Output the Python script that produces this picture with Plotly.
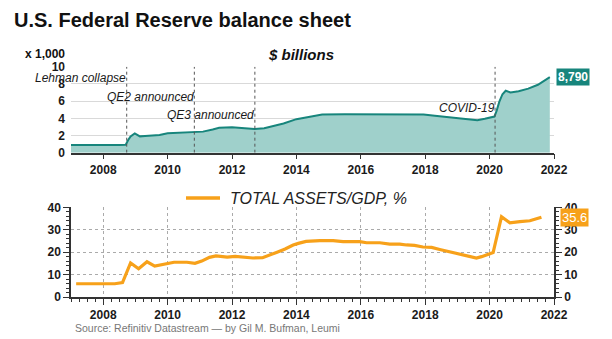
import plotly.graph_objects as go

# ---------------- DATA ----------------
fed_years = [2007.0, 2007.3, 2007.6, 2007.9, 2008.2, 2008.5, 2008.7, 2008.78, 2008.85, 2008.98,
             2009.14, 2009.3, 2009.5, 2009.75, 2010.0, 2010.3, 2010.55, 2010.85, 2011.1, 2011.4,
             2011.6, 2012.0, 2012.3, 2012.7, 2013.0, 2013.3, 2013.6, 2014.0, 2014.5, 2014.8,
             2015.5, 2016.5, 2017.5, 2017.95, 2018.3, 2018.7, 2019.1, 2019.4, 2019.62, 2019.85,
             2020.05, 2020.15, 2020.22, 2020.3, 2020.4, 2020.5, 2020.65, 2020.9, 2021.2, 2021.5,
             2021.87]
fed_vals = [0.9, 0.92, 0.87, 0.9, 0.9, 0.9, 0.92, 1.5, 1.9, 2.25,
            1.9, 1.95, 2.0, 2.05, 2.25, 2.3, 2.35, 2.35, 2.45, 2.7,
            2.9, 2.95, 2.9, 2.75, 2.85, 3.1, 3.4, 3.9, 4.27, 4.45,
            4.48, 4.48, 4.47, 4.45, 4.3, 4.15, 4.0, 3.85, 3.78, 3.95,
            4.15, 4.2, 4.9, 5.9, 6.8, 7.2, 7.0, 7.15, 7.45, 7.9,
            8.79]

gdp_years = [2007.16, 2007.5, 2007.9, 2008.36, 2008.6, 2008.85, 2009.1, 2009.36, 2009.6, 2010.0,
             2010.2, 2010.6, 2010.85, 2011.06, 2011.3, 2011.5, 2011.85, 2012.1, 2012.4, 2012.65,
             2012.95, 2013.2, 2013.4, 2013.65, 2013.9, 2014.06, 2014.3, 2014.73, 2015.14, 2015.45,
             2015.97, 2016.18, 2016.59, 2016.9, 2017.21, 2017.42, 2017.67, 2017.93, 2018.2, 2018.45,
             2019.59, 2019.75, 2020.11, 2020.37, 2020.63, 2020.94, 2021.25, 2021.61]
gdp_vals = [5.9, 5.9, 5.9, 5.9, 6.4, 15.2, 12.6, 15.7, 13.8, 15.0,
            15.5, 15.5, 15.0, 16.0, 17.7, 18.3, 17.8, 18.1, 17.7, 17.4,
            17.5, 18.7, 20.0, 21.4, 23.2, 23.9, 24.8, 25.1, 25.1, 24.7,
            24.7, 24.2, 24.2, 23.6, 23.6, 23.2, 23.0, 22.3, 22.1, 21.2,
            17.4, 18.0, 19.8, 35.8, 33.1, 33.6, 34.0, 35.6]

events = ["Lehman collapse", "QE2 announced", "QE3 announced", "COVID-19"]
event_years = [2008.73, 2010.83, 2012.71, 2020.17]
event_label_y = [8.7, 6.5, 4.4, 5.2]

year_ticks = [2008, 2010, 2012, 2014, 2016, 2018, 2020, 2022]
fed_ticks = [0, 2, 4, 6, 8, 10]
gdp_ticks = [0, 10, 20, 30, 40]

last_fed_label = "8,790"
last_gdp_label = "35.6"

# ---------------- STYLE ----------------
FONT = "Liberation Sans"
TEAL = "#17857c"
TEAL_FILL = "#9fd0cb"
ORANGE = "#f7a11a"
W, H = 612, 339

def px_x(p):
    return p / W

def px_y(p):
    return 1 - p / H

fig = go.Figure()

fig.add_trace(go.Scatter(
    x=fed_years, y=fed_vals, mode="lines", fill="tozeroy",
    line=dict(color=TEAL, width=2), fillcolor=TEAL_FILL,
    xaxis="x", yaxis="y", showlegend=False, hoverinfo="skip"))

fig.add_trace(go.Scatter(
    x=gdp_years, y=gdp_vals, mode="lines",
    line=dict(color=ORANGE, width=3.2),
    xaxis="x2", yaxis="y2", showlegend=False, hoverinfo="skip"))

tickfont = dict(family=FONT, size=12, color="#1a1a1a", weight="bold")

top_dom_x = [px_x(71), px_x(554)]
top_dom_y = [px_y(152.7), px_y(66.7)]
bot_dom_x = [px_x(71), px_x(554)]
bot_dom_y = [px_y(297), px_y(207.3)]

fig.update_layout(
    template="none",
    width=W, height=H,
    margin=dict(l=0, r=0, t=0, b=0, autoexpand=False),
    paper_bgcolor="white", plot_bgcolor="white",
    font=dict(family=FONT),
    showlegend=False,
    xaxis=dict(domain=top_dom_x, range=[2007, 2022], anchor="y", automargin=False,
               tickvals=year_ticks, ticks="outside", ticklen=5, tickcolor="#333",
               showline=True, linecolor="#333", linewidth=1.5,
               showgrid=False, zeroline=False, tickfont=tickfont),
    yaxis=dict(domain=top_dom_y, range=[0, 10], anchor="x", automargin=False,
               tickvals=fed_ticks, ticks="", showline=False,
               showgrid=True, gridcolor="#d9d9d9", gridwidth=1,
               zeroline=False, tickfont=tickfont, ticklabelstandoff=5),
    xaxis2=dict(domain=bot_dom_x, range=[2007, 2022], anchor="y2", automargin=False,
                tickvals=year_ticks, ticks="outside", ticklen=6, tickcolor="#333",
                minor=dict(dtick=0.25, tick0=2007, ticks="outside", ticklen=3, tickcolor="#333",
                           showgrid=False),
                showline=True, linecolor="#333", linewidth=1.5,
                showgrid=True, gridcolor="#aaaaaa", griddash="dot", gridwidth=1,
                zeroline=False, tickfont=tickfont),
    yaxis2=dict(domain=bot_dom_y, range=[0, 40], anchor="x2", automargin=False,
                tickvals=gdp_ticks, ticks="outside", ticklen=6, tickcolor="#333",
                minor=dict(dtick=2, ticks="outside", ticklen=3, tickcolor="#333", showgrid=False),
                showline=True, linecolor="#333", linewidth=1.5,
                showgrid=True, gridcolor="#aaaaaa", griddash="dot", gridwidth=1,
                zeroline=False, tickfont=tickfont),
    yaxis3=dict(range=[0, 40], overlaying="y2", anchor="x2", side="right", automargin=False,
                tickvals=gdp_ticks, ticks="outside", ticklen=6, tickcolor="#333",
                minor=dict(dtick=2, ticks="outside", ticklen=3, tickcolor="#333", showgrid=False),
                showline=True, linecolor="#333", linewidth=1.5,
                showgrid=False, zeroline=False, tickfont=tickfont),
)

# invisible trace so the right axis is drawn
fig.add_trace(go.Scatter(x=[gdp_years[0]], y=[gdp_vals[0]], mode="lines",
                         line=dict(width=0), xaxis="x2", yaxis="y3",
                         showlegend=False, hoverinfo="skip", opacity=0))

shapes = []
annots = []
for name, yr, ly in zip(events, event_years, event_label_y):
    shapes.append(dict(type="line", xref="x", yref="y", x0=yr, x1=yr, y0=0, y1=10,
                       line=dict(color="#555", width=1, dash="dot")))
    annots.append(dict(xref="x", yref="y", x=yr + 0.05, y=ly, text=name, showarrow=False,
                       xanchor="right", yanchor="middle",
                       font=dict(family=FONT, size=12, color="#1a1a1a", style="italic")))

annots += [
    dict(xref="paper", yref="paper", x=px_x(12), y=px_y(20), text="U.S. Federal Reserve balance sheet",
         showarrow=False, xanchor="left", yanchor="middle",
         font=dict(family=FONT, size=20, color="#111", weight="bold")),
    dict(xref="paper", yref="paper", x=px_x(67), y=px_y(54), text="x 1,000",
         showarrow=False, xanchor="right", yanchor="middle",
         font=dict(family=FONT, size=12, color="#111", weight="bold")),
    dict(xref="paper", yref="paper", x=px_x(301), y=px_y(54), text="$ billions",
         showarrow=False, xanchor="center", yanchor="middle",
         font=dict(family=FONT, size=15, color="#111", weight="bold", style="italic")),
    dict(xref="x", yref="y", x=2022, y=fed_vals[-1], text=last_fed_label,
         showarrow=False, xanchor="left", yanchor="middle", xshift=2,
         bgcolor=TEAL, borderpad=1,
         font=dict(family=FONT, size=12, color="white", weight="bold")),
    dict(xref="x2", yref="y2", x=2022, y=gdp_vals[-1], text=last_gdp_label,
         showarrow=False, xanchor="left", yanchor="middle", xshift=6,
         bgcolor=ORANGE, borderpad=1,
         font=dict(family=FONT, size=13, color="white")),
    dict(xref="paper", yref="paper", x=px_x(228), y=px_y(198), text="TOTAL ASSETS/GDP, %",
         showarrow=False, xanchor="left", yanchor="middle",
         font=dict(family=FONT, size=16, color="#222", style="italic")),
    dict(xref="paper", yref="paper", x=px_x(73), y=px_y(328), text="Source: Refinitiv Datastream \u2014 by Gil M. Bufman, Leumi",
         showarrow=False, xanchor="left", yanchor="middle",
         font=dict(family=FONT, size=10.5, color="#777")),
]
shapes.append(dict(type="line", xref="paper", yref="paper", x0=px_x(186), x1=px_x(220),
                   y0=px_y(198), y1=px_y(198), line=dict(color=ORANGE, width=3.5)))

fig.update_layout(shapes=shapes, annotations=annots)

fig.write_html("out.html")
